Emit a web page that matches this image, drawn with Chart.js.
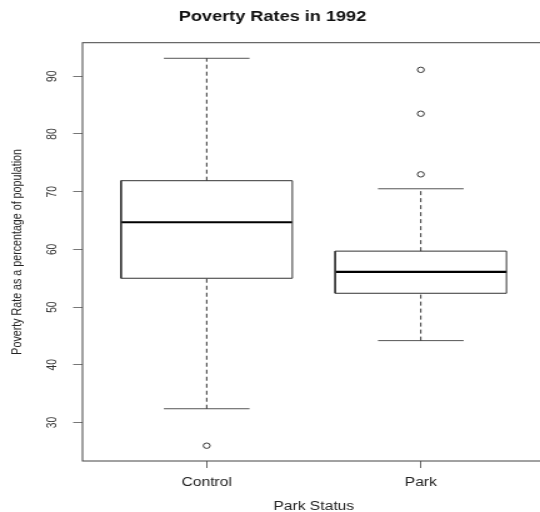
<!DOCTYPE html>
<html>
<head>
<meta charset="utf-8">
<script src="https://cdn.jsdelivr.net/npm/chart.js@4/dist/chart.umd.min.js"></script>
<style>
  html, body { margin: 0; padding: 0; background: #fff; overflow: hidden; }
  /* the source picture is stretched sideways, so the chart is too */
  #wrap { width: 485px; height: 515px; transform: scale(1.25, 1); transform-origin: 0 0; }
</style>
</head>
<body>
<div id="wrap"><canvas id="boxChart"></canvas></div>
<script>
const categories = ['Control', 'Park'];
const lowerWhisker = [32.4, 44.2];
const lowerQuartile = [55.0, 52.4];
const medians = [64.7, 56.1];
const upperQuartile = [71.9, 59.7];
const upperWhisker = [93.1, 70.5];
const outliers = [[26.0], [73.0, 83.5, 91.1]];
const yTicks = [30, 40, 50, 60, 70, 80, 90];

const BOX_HALF = 0.4;
const CAP_HALF = 0.2;
const FONT = "'Liberation Sans', Arial, sans-serif";

function seg(x1, y1, x2, y2) {
    return [{ x: x1, y: y1 }, { x: x2, y: y2 }];
}

const datasets = [];
categories.forEach((name, i) => {
    const x = i + 1;
    const lineStyle = { showLine: true, pointRadius: 0, borderWidth: 1, borderColor: '#333', fill: false };

    // whiskers
    datasets.push({ ...lineStyle, data: seg(x, upperQuartile[i], x, upperWhisker[i]), borderDash: [4, 3] });
    datasets.push({ ...lineStyle, data: seg(x, lowerWhisker[i], x, lowerQuartile[i]), borderDash: [4, 3] });
    datasets.push({ ...lineStyle, data: seg(x - CAP_HALF, upperWhisker[i], x + CAP_HALF, upperWhisker[i]), borderColor: '#555' });
    datasets.push({ ...lineStyle, data: seg(x - CAP_HALF, lowerWhisker[i], x + CAP_HALF, lowerWhisker[i]), borderColor: '#555' });

    // box
    datasets.push({
        ...lineStyle,
        data: [
            { x: x - BOX_HALF, y: lowerQuartile[i] },
            { x: x + BOX_HALF, y: lowerQuartile[i] },
            { x: x + BOX_HALF, y: upperQuartile[i] },
            { x: x - BOX_HALF, y: upperQuartile[i] },
            { x: x - BOX_HALF, y: lowerQuartile[i] }
        ]
    });

    // median
    datasets.push({ ...lineStyle, data: seg(x - BOX_HALF, medians[i], x + BOX_HALF, medians[i]), borderWidth: 2.2, borderColor: '#000' });

    // outliers
    datasets.push({
        data: outliers[i].map(v => ({ x: x, y: v })),
        pointRadius: 2.7,
        pointBorderWidth: 1,
        pointBorderColor: '#333',
        pointBackgroundColor: 'rgba(0,0,0,0)'
    });
});

const frame = {
    id: 'frame',
    afterDraw(chart) {
        const { left, top, right, bottom } = chart.chartArea;
        const ctx = chart.ctx;
        ctx.save();
        ctx.strokeStyle = '#444';
        ctx.lineWidth = 1;
        ctx.strokeRect(left, top, right - left, bottom - top);
        ctx.restore();
    }
};

new Chart(document.getElementById('boxChart'), {
    type: 'scatter',
    data: { datasets: datasets },
    options: {
        responsive: true,
        maintainAspectRatio: false,
        animation: false,
        events: [],
        layout: { padding: { left: 0, right: 49, top: 0, bottom: 0 } },
        plugins: {
            legend: { display: false },
            tooltip: { enabled: false },
            title: {
                display: true,
                text: 'Poverty Rates in 1992',
                color: '#111',
                font: { family: FONT, size: 14.5, weight: 'bold' },
                padding: { top: 8, bottom: 17.3 }
            }
        },
        scales: {
            x: {
                type: 'linear',
                min: 0.42,
                max: 2.58,
                afterBuildTicks: scale => { scale.ticks = categories.map((c, i) => ({ value: i + 1 })); },
                afterFit: scale => { scale.height = 54; },
                ticks: {
                    autoSkip: false,
                    padding: 7,
                    color: '#222',
                    font: { family: FONT, size: 12.5 },
                    callback: (value, index) => categories[index]
                },
                grid: { drawOnChartArea: false, tickLength: 7, color: '#666' },
                border: { display: false },
                title: {
                    display: true,
                    text: 'Park Status',
                    color: '#222',
                    font: { family: FONT, size: 12.5 },
                    padding: { top: 0, bottom: 0.5 }
                }
            },
            y: {
                min: 23.35,
                max: 95.8,
                afterBuildTicks: scale => { scale.ticks = yTicks.map(v => ({ value: v })); },
                afterFit: scale => { scale.width = 66; },
                ticks: {
                    minRotation: 90,
                    maxRotation: 90,
                    crossAlign: 'center',
                    padding: 11,
                    color: '#333',
                    font: { family: FONT, size: 10.3 }
                },
                grid: { drawOnChartArea: false, tickLength: 7.5, color: '#777' },
                border: { display: false },
                title: {
                    display: true,
                    text: 'Poverty Rate as a percentage of population',
                    color: '#222',
                    font: { family: FONT, size: 10.7 },
                    padding: { top: 7.2, bottom: 0 }
                }
            }
        }
    },
    plugins: [frame]
});
</script>
</body>
</html>
